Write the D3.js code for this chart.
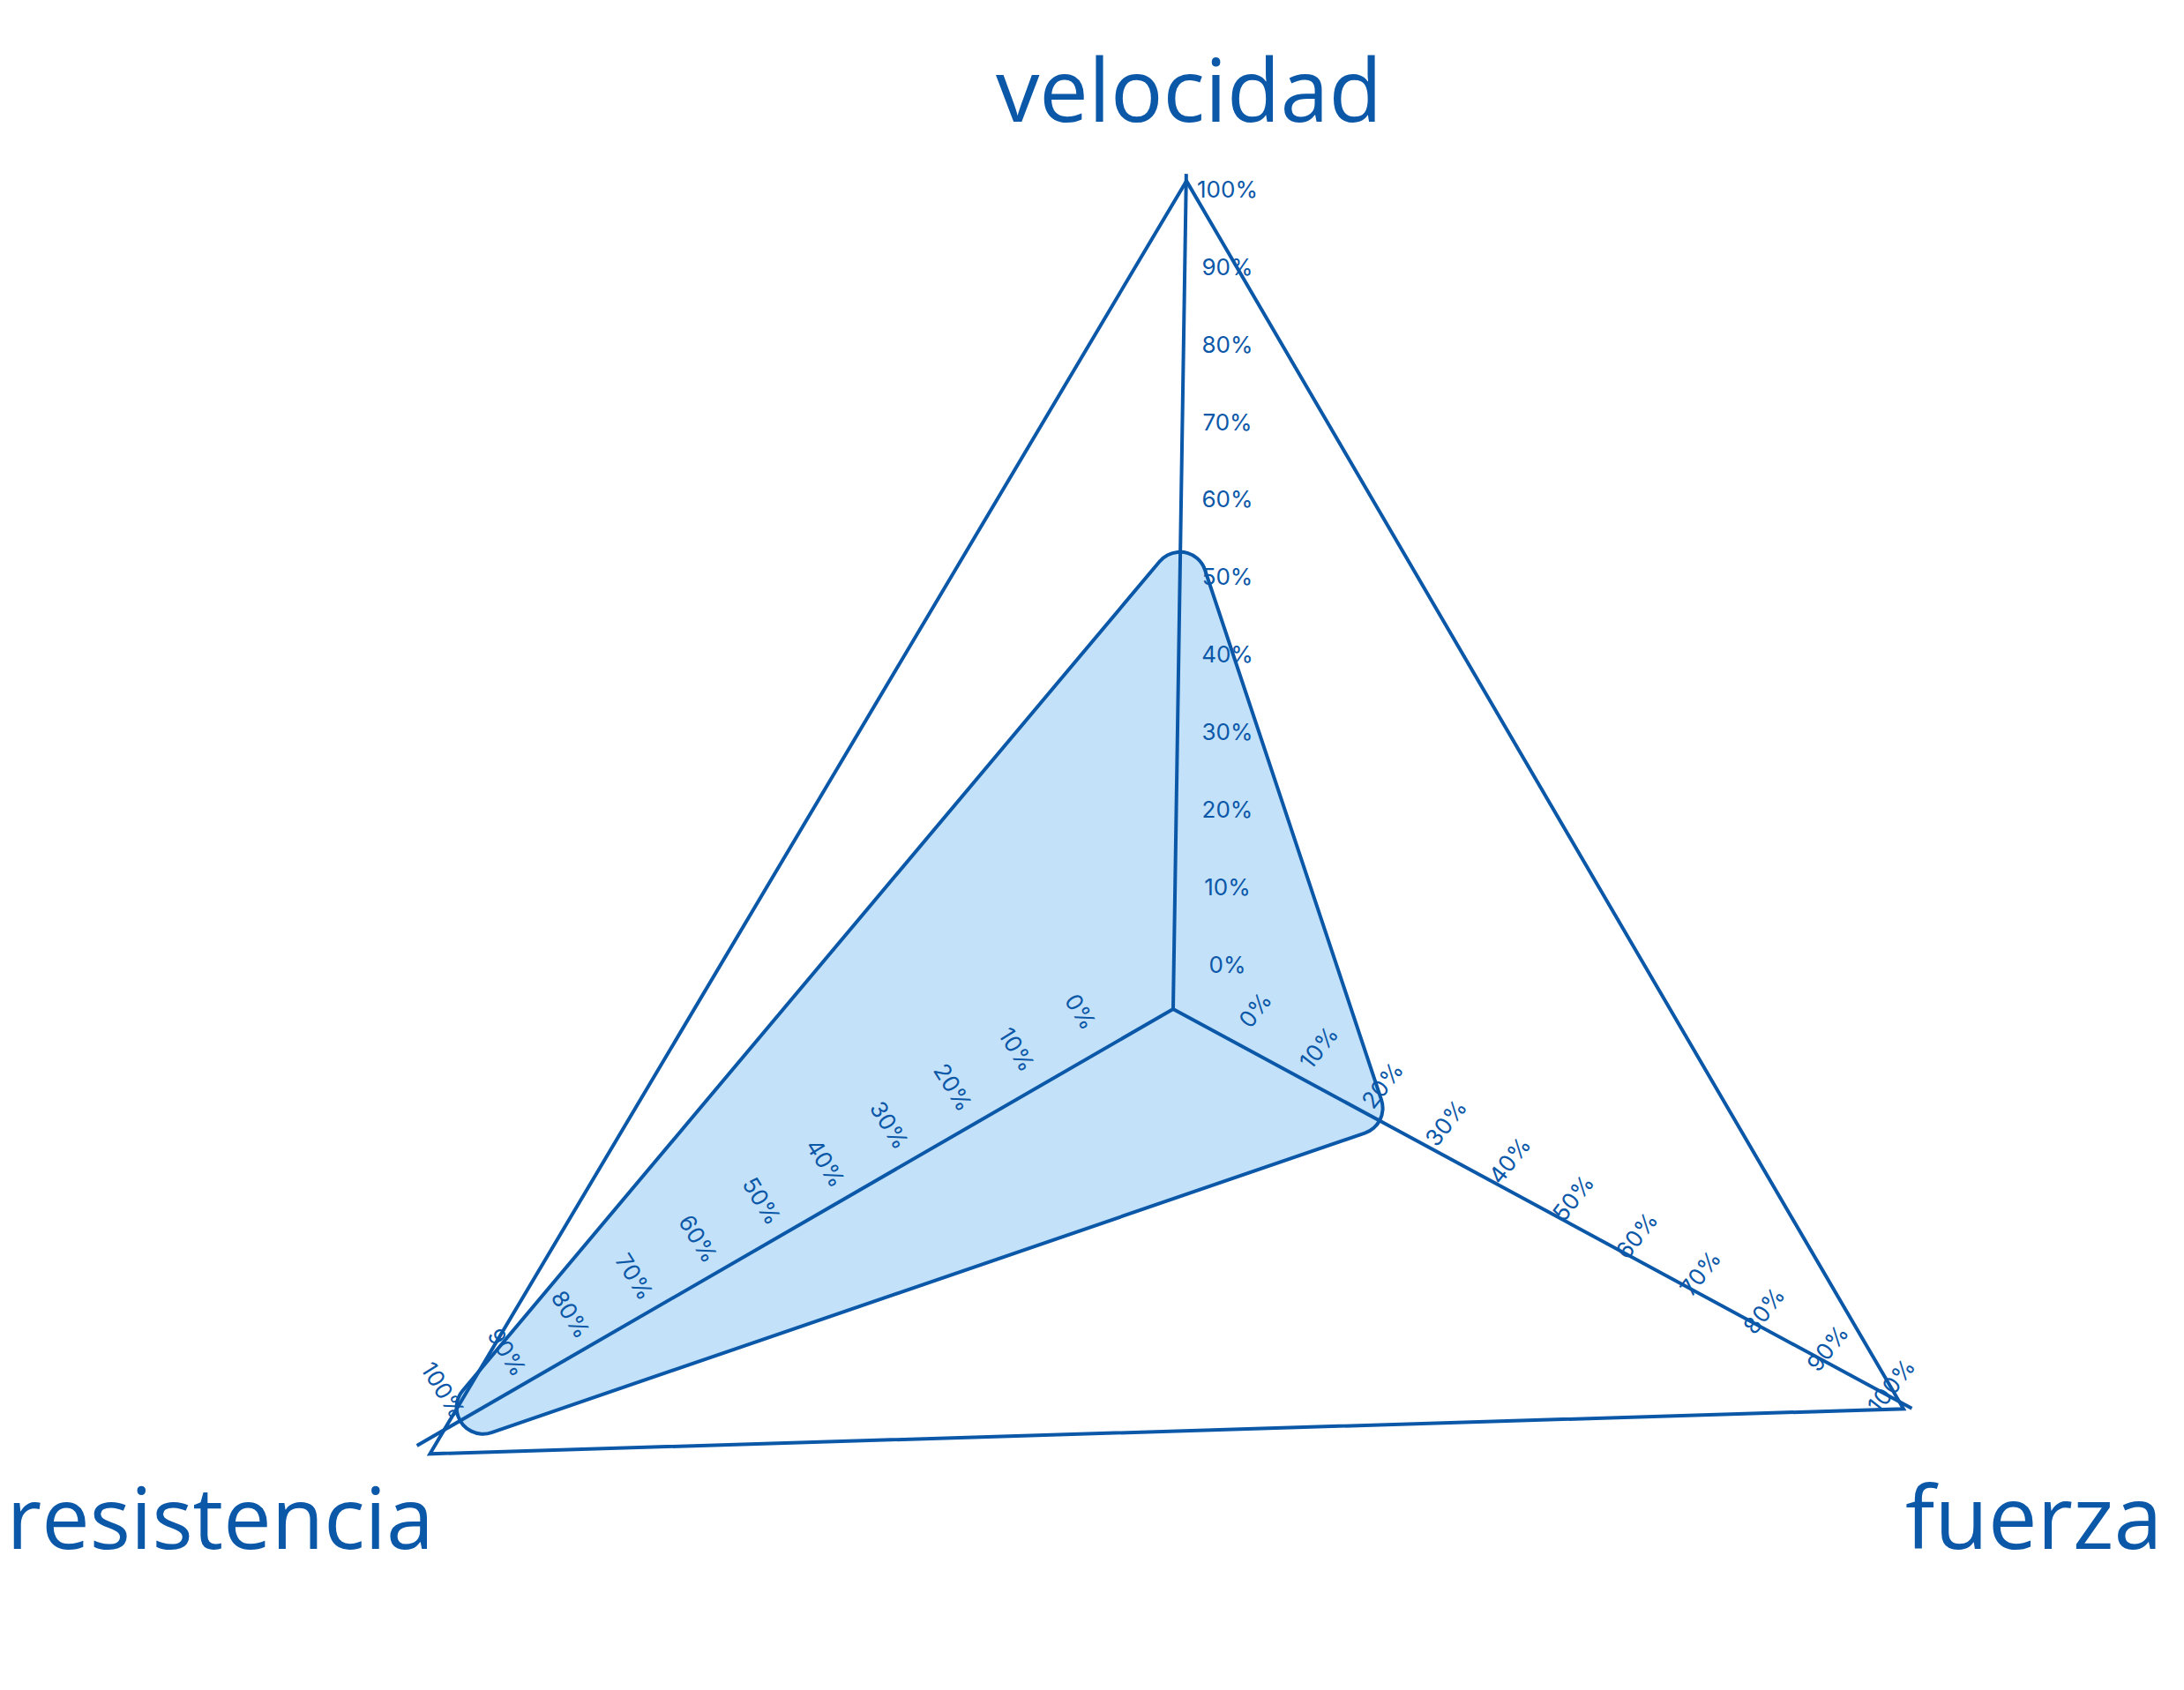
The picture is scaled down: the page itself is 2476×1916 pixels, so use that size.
<!DOCTYPE html>
<html>
<head>
<meta charset="utf-8">
<script src="https://cdn.jsdelivr.net/npm/d3@7"></script>
<style>
  html, body { margin: 0; padding: 0; background: #ffffff; }
  svg { display: block; }
</style>
</head>
<body>
<svg id="chart" width="2476" height="1916"></svg>
<script>
// ---- data ----
const categories = ["velocidad", "fuerza", "resistencia"];
const values = [52, 25, 92];            // percent
const tickValues = [0, 10, 20, 30, 40, 50, 60, 70, 80, 90, 100];
const tickLabels = ["0%", "10%", "20%", "30%", "40%", "50%", "60%", "70%", "80%", "90%", "100%"];

// ---- layout ----
const cx = 1330, cy = 1144;
const stroke = "#0b57a8";
const fill = "#c3e2f9";
const lineW = 4;
const cornerR = 30;                      // rounding of the data area
const rad = d => d * Math.PI / 180;

// per-axis geometry (angles clockwise from 12 o'clock)
const axisAngle = [0.9, 118.4, 240.0];
const axisLen   = [947, 952, 990];
const gridAngle = [0.92, 118.7, 239.1];
const gridLen   = [939, 944, 982];

// radial scales, one per axis
const rScale = gridLen.map(R => d3.scaleLinear().domain([0, 100]).range([0, R]));

// label placement scales (relative to centre), one per axis
const labelScale = [
  d3.scaleLinear().domain([0, 100]).range([[61.5, -50.5], [61.5, -929.5]]),
  d3.scaleLinear().domain([0, 100]).range([[93, 1], [814, 427]]),
  d3.scaleLinear().domain([0, 100]).range([[-105, 3], [-827.5, 432]])
];
const labelRotate = [0, -52, 58];

const svg = d3.select("#chart");
const g = svg.append("g").attr("transform", `translate(${cx},${cy})`);

// data area: polygon through the values, widened with round joins
const areaLine = d3.lineRadial()
  .angle((d, i) => rad(axisAngle[i]))
  .radius((d, i) => rScale[i](d))
  .curve(d3.curveLinearClosed);
const areaD = areaLine(values);
g.append("path")
  .attr("d", areaD)
  .attr("fill", stroke)
  .attr("stroke", stroke)
  .attr("stroke-width", 2 * cornerR + lineW)
  .attr("stroke-linejoin", "round");
g.append("path")
  .attr("d", areaD)
  .attr("fill", fill)
  .attr("stroke", fill)
  .attr("stroke-width", 2 * cornerR - lineW)
  .attr("stroke-linejoin", "round");

// grid (100%) triangle
const gridLine = d3.lineRadial()
  .angle((d, i) => rad(gridAngle[i]))
  .radius((d, i) => rScale[i](d))
  .curve(d3.curveLinearClosed);
g.append("path")
  .datum(categories.map(() => 100))
  .attr("d", gridLine)
  .attr("fill", "none")
  .attr("stroke", stroke)
  .attr("stroke-width", lineW)
  .attr("stroke-linejoin", "miter");

// axis lines
g.selectAll("line.axis")
  .data(categories)
  .join("line")
  .attr("class", "axis")
  .attr("x1", 0).attr("y1", 0)
  .attr("x2", (d, i) => axisLen[i] * Math.sin(rad(axisAngle[i])))
  .attr("y2", (d, i) => -axisLen[i] * Math.cos(rad(axisAngle[i])))
  .attr("stroke", stroke)
  .attr("stroke-width", lineW);

// tick labels
categories.forEach((c, i) => {
  g.append("g").selectAll("text")
    .data(tickValues)
    .join("text")
    .attr("transform", v => {
      const p = labelScale[i](v);
      return `translate(${p[0]},${p[1]}) rotate(${labelRotate[i]})`;
    })
    .attr("text-anchor", "middle")
    .attr("dy", "0.36em")
    .attr("font-family", "Inter, 'Noto Sans', sans-serif")
    .attr("font-size", 26)
    .attr("fill", stroke)
    .text((v, j) => tickLabels[j]);
});

// axis titles
const titlePos = [
  { x: 1348, y: 138, anchor: "middle", size: 99 },
  { x: 2160, y: 1756, anchor: "start", size: 99 },
  { x: 492,  y: 1756, anchor: "end", size: 97 }
];
svg.append("g").selectAll("text")
  .data(categories)
  .join("text")
  .attr("x", (d, i) => titlePos[i].x)
  .attr("y", (d, i) => titlePos[i].y)
  .attr("text-anchor", (d, i) => titlePos[i].anchor)
  .attr("font-family", "'Open Sans', 'Noto Sans', sans-serif")
  .attr("font-size", (d, i) => titlePos[i].size)
  .attr("fill", stroke)
  .text(d => d);
</script>
</body>
</html>
